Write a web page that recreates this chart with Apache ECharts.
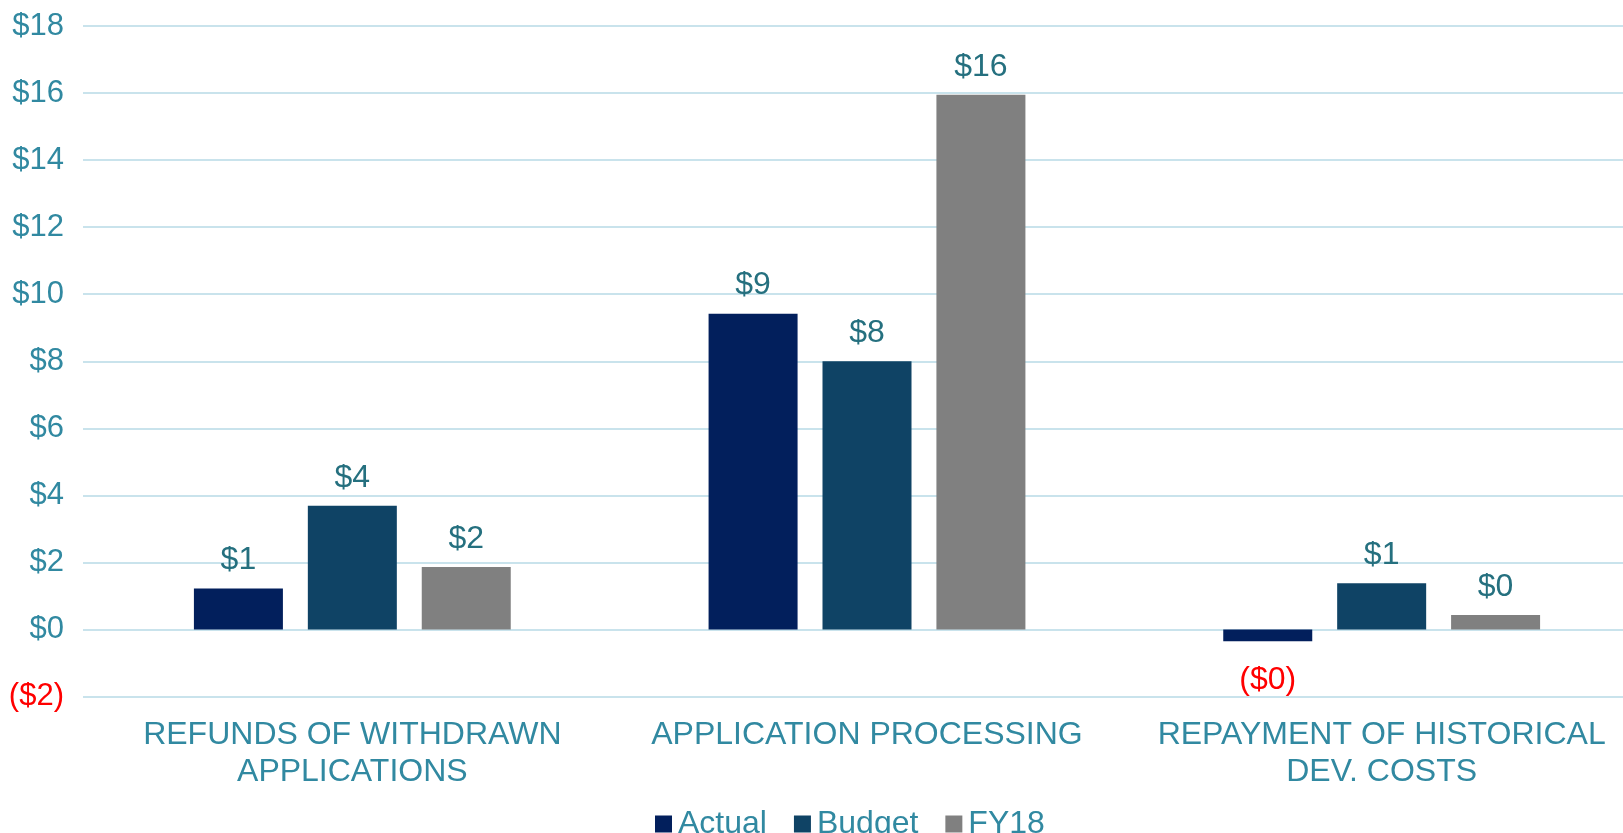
<!DOCTYPE html>
<html>
<head>
<meta charset="utf-8">
<script src="https://cdn.jsdelivr.net/npm/echarts@6/dist/echarts.min.js"></script>
<style>
html,body{margin:0;padding:0;background:#fff;overflow:hidden;}
#chart{width:1640px;height:833px;}
</style>
</head>
<body>
<div id="chart"></div>
<script>
const categories = ['REFUNDS OF WITHDRAWN\nAPPLICATIONS', 'APPLICATION PROCESSING', 'REPAYMENT OF HISTORICAL\nDEV. COSTS'];
const seriesNames = ['Actual', 'Budget', 'FY18'];
const actual = [1.22, 9.42, -0.35];
const budget = [3.69, 8.0, 1.38];
const fy18 = [1.86, 15.95, 0.43];
const seriesColors = ['#021F5C', '#0F4365', '#808080'];
const yMin = -2, yMax = 18, yStep = 2;

const FONT = '"Liberation Sans", Arial, sans-serif';
const AXIS_COLOR = '#3189A1';
const DATA_COLOR = '#25707F';

function fmt(v) {
  return v < 0 ? '($' + Math.round(-v) + ')' : '$' + Math.round(v);
}

function buildData(values) {
  return values.map(v => v < 0
    ? { value: v, label: { position: 'bottom', color: '#FF0000', distance: 23 } }
    : { value: v });
}

const allValues = [actual, budget, fy18];
const series = seriesNames.map((name, i) => ({
  name: name,
  type: 'bar',
  xAxisIndex: 0,
  yAxisIndex: 0,
  data: buildData(allValues[i]),
  barWidth: 89,
  barGap: '28%',
  itemStyle: { color: seriesColors[i] },
  label: {
    show: true,
    position: 'top',
    distance: 12,
    color: DATA_COLOR,
    fontFamily: FONT,
    fontSize: 32,
    formatter: p => fmt(p.value)
  }
}));

const chart = echarts.init(document.getElementById('chart'));
chart.setOption({
  animation: false,
  backgroundColor: '#fff',
  grid: [
    { left: 95, right: 1, top: 26, bottom: 136.5, containLabel: false },
    { left: 83, right: 0, top: 26, bottom: 136.5, containLabel: false }
  ],
  legend: {
    data: seriesNames,
    top: 803,
    left: 650,
    itemWidth: 17,
    itemHeight: 17,
    itemGap: 27,
    icon: 'rect',
    textStyle: { color: AXIS_COLOR, fontFamily: FONT, fontSize: 32, padding: [0, 0, 0, 1] }
  },
  xAxis: [{
    type: 'category',
    gridIndex: 0,
    data: categories,
    axisLine: { show: false, onZero: false },
    axisTick: { show: false },
    axisLabel: {
      color: AXIS_COLOR,
      fontFamily: FONT,
      fontSize: 32,
      lineHeight: 37,
      margin: 20,
      interval: 0
    }
  }, {
    type: 'category',
    gridIndex: 1,
    data: categories,
    show: false
  }],
  yAxis: [{
    type: 'value',
    gridIndex: 0,
    min: yMin,
    max: yMax,
    interval: yStep,
    axisLine: { show: false },
    axisTick: { show: false },
    splitLine: { show: false },
    axisLabel: {
      margin: 31,
      fontFamily: FONT,
      fontSize: 31,
      color: AXIS_COLOR,
      formatter: v => v < 0 ? '{neg|($' + (-v) + ')}' : '$' + v,
      rich: { neg: { color: '#FF0000', fontFamily: FONT, fontSize: 31 } }
    }
  }, {
    type: 'value',
    gridIndex: 1,
    min: yMin,
    max: yMax,
    interval: yStep,
    axisLine: { show: false },
    axisTick: { show: false },
    axisLabel: { show: false },
    splitLine: { show: true, lineStyle: { color: '#C9E3EC', width: 2 } }
  }],
  series: series
});
</script>
</body>
</html>
